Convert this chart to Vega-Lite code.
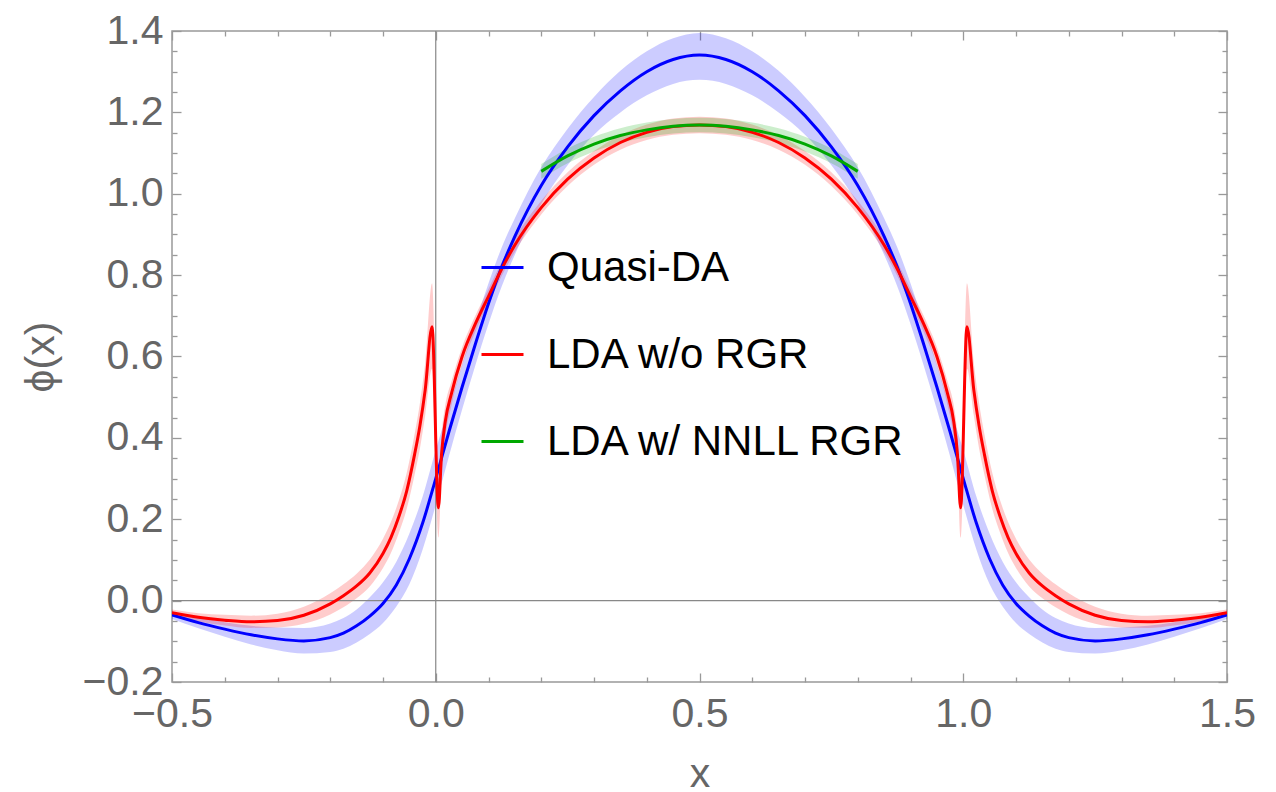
{
  "$schema": "https://vega.github.io/schema/vega-lite/v6.json",
  "autosize": "none",
  "width": 1055,
  "height": 651,
  "padding": {"left": 172, "top": 31, "right": 49, "bottom": 110},
  "background": "white",
  "datasets": {
    "d": [
      {"series":"Quasi-DA","x":-0.5,"y":-0.035,"lo":-0.045,"hi":-0.027},
      {"series":"Quasi-DA","x":-0.45,"y":-0.054,"lo":-0.068,"hi":-0.041},
      {"series":"Quasi-DA","x":-0.4,"y":-0.070,"lo":-0.089,"hi":-0.053},
      {"series":"Quasi-DA","x":-0.35,"y":-0.084,"lo":-0.108,"hi":-0.062},
      {"series":"Quasi-DA","x":-0.3,"y":-0.094,"lo":-0.122,"hi":-0.066},
      {"series":"Quasi-DA","x":-0.25,"y":-0.099,"lo":-0.130,"hi":-0.067},
      {"series":"Quasi-DA","x":-0.2,"y":-0.091,"lo":-0.126,"hi":-0.056},
      {"series":"Quasi-DA","x":-0.175,"y":-0.080,"lo":-0.118,"hi":-0.043},
      {"series":"Quasi-DA","x":-0.15,"y":-0.062,"lo":-0.103,"hi":-0.022},
      {"series":"Quasi-DA","x":-0.125,"y":-0.038,"lo":-0.082,"hi":0.008},
      {"series":"Quasi-DA","x":-0.1,"y":-0.007,"lo":-0.055,"hi":0.045},
      {"series":"Quasi-DA","x":-0.075,"y":0.038,"lo":-0.015,"hi":0.095},
      {"series":"Quasi-DA","x":-0.05,"y":0.103,"lo":0.040,"hi":0.165},
      {"series":"Quasi-DA","x":-0.025,"y":0.190,"lo":0.125,"hi":0.255},
      {"series":"Quasi-DA","x":0,"y":0.300,"lo":0.235,"hi":0.370},
      {"series":"Quasi-DA","x":0.025,"y":0.415,"lo":0.355,"hi":0.475},
      {"series":"Quasi-DA","x":0.05,"y":0.525,"lo":0.470,"hi":0.580},
      {"series":"Quasi-DA","x":0.075,"y":0.630,"lo":0.578,"hi":0.682},
      {"series":"Quasi-DA","x":0.1,"y":0.730,"lo":0.680,"hi":0.780},
      {"series":"Quasi-DA","x":0.125,"y":0.820,"lo":0.772,"hi":0.868},
      {"series":"Quasi-DA","x":0.15,"y":0.895,"lo":0.850,"hi":0.940},
      {"series":"Quasi-DA","x":0.2,"y":1.020,"lo":0.975,"hi":1.065},
      {"series":"Quasi-DA","x":0.25,"y":1.115,"lo":1.070,"hi":1.160},
      {"series":"Quasi-DA","x":0.3,"y":1.192,"lo":1.145,"hi":1.238},
      {"series":"Quasi-DA","x":0.35,"y":1.253,"lo":1.200,"hi":1.302},
      {"series":"Quasi-DA","x":0.4,"y":1.300,"lo":1.242,"hi":1.350},
      {"series":"Quasi-DA","x":0.45,"y":1.330,"lo":1.270,"hi":1.382},
      {"series":"Quasi-DA","x":0.5,"y":1.341,"lo":1.280,"hi":1.395},
      {"series":"Quasi-DA","x":0.55,"y":1.330,"lo":1.270,"hi":1.382},
      {"series":"Quasi-DA","x":0.6,"y":1.300,"lo":1.242,"hi":1.350},
      {"series":"Quasi-DA","x":0.65,"y":1.253,"lo":1.200,"hi":1.302},
      {"series":"Quasi-DA","x":0.7,"y":1.192,"lo":1.145,"hi":1.238},
      {"series":"Quasi-DA","x":0.75,"y":1.115,"lo":1.070,"hi":1.160},
      {"series":"Quasi-DA","x":0.8,"y":1.020,"lo":0.975,"hi":1.065},
      {"series":"Quasi-DA","x":0.85,"y":0.895,"lo":0.850,"hi":0.940},
      {"series":"Quasi-DA","x":0.875,"y":0.820,"lo":0.772,"hi":0.868},
      {"series":"Quasi-DA","x":0.9,"y":0.730,"lo":0.680,"hi":0.780},
      {"series":"Quasi-DA","x":0.925,"y":0.630,"lo":0.578,"hi":0.682},
      {"series":"Quasi-DA","x":0.95,"y":0.525,"lo":0.470,"hi":0.580},
      {"series":"Quasi-DA","x":0.975,"y":0.415,"lo":0.355,"hi":0.475},
      {"series":"Quasi-DA","x":1,"y":0.300,"lo":0.235,"hi":0.370},
      {"series":"Quasi-DA","x":1.025,"y":0.190,"lo":0.125,"hi":0.255},
      {"series":"Quasi-DA","x":1.05,"y":0.103,"lo":0.040,"hi":0.165},
      {"series":"Quasi-DA","x":1.075,"y":0.038,"lo":-0.015,"hi":0.095},
      {"series":"Quasi-DA","x":1.1,"y":-0.007,"lo":-0.055,"hi":0.045},
      {"series":"Quasi-DA","x":1.125,"y":-0.038,"lo":-0.082,"hi":0.008},
      {"series":"Quasi-DA","x":1.15,"y":-0.062,"lo":-0.103,"hi":-0.022},
      {"series":"Quasi-DA","x":1.175,"y":-0.080,"lo":-0.118,"hi":-0.043},
      {"series":"Quasi-DA","x":1.2,"y":-0.091,"lo":-0.126,"hi":-0.056},
      {"series":"Quasi-DA","x":1.25,"y":-0.099,"lo":-0.130,"hi":-0.067},
      {"series":"Quasi-DA","x":1.3,"y":-0.094,"lo":-0.122,"hi":-0.066},
      {"series":"Quasi-DA","x":1.35,"y":-0.084,"lo":-0.108,"hi":-0.062},
      {"series":"Quasi-DA","x":1.4,"y":-0.070,"lo":-0.089,"hi":-0.053},
      {"series":"Quasi-DA","x":1.45,"y":-0.054,"lo":-0.068,"hi":-0.041},
      {"series":"Quasi-DA","x":1.5,"y":-0.035,"lo":-0.045,"hi":-0.027},

      {"series":"LDA w/o RGR","x":-0.5,"y":-0.030,"lo":-0.038,"hi":-0.022},
      {"series":"LDA w/o RGR","x":-0.45,"y":-0.041,"lo":-0.051,"hi":-0.031},
      {"series":"LDA w/o RGR","x":-0.4,"y":-0.048,"lo":-0.061,"hi":-0.035},
      {"series":"LDA w/o RGR","x":-0.35,"y":-0.052,"lo":-0.067,"hi":-0.037},
      {"series":"LDA w/o RGR","x":-0.3,"y":-0.049,"lo":-0.066,"hi":-0.032},
      {"series":"LDA w/o RGR","x":-0.25,"y":-0.036,"lo":-0.057,"hi":-0.015},
      {"series":"LDA w/o RGR","x":-0.2,"y":-0.008,"lo":-0.034,"hi":0.018},
      {"series":"LDA w/o RGR","x":-0.175,"y":0.012,"lo":-0.016,"hi":0.040},
      {"series":"LDA w/o RGR","x":-0.15,"y":0.036,"lo":0.006,"hi":0.066},
      {"series":"LDA w/o RGR","x":-0.125,"y":0.068,"lo":0.035,"hi":0.101},
      {"series":"LDA w/o RGR","x":-0.1,"y":0.116,"lo":0.080,"hi":0.152},
      {"series":"LDA w/o RGR","x":-0.085,"y":0.155,"lo":0.117,"hi":0.193},
      {"series":"LDA w/o RGR","x":-0.07,"y":0.206,"lo":0.166,"hi":0.246},
      {"series":"LDA w/o RGR","x":-0.055,"y":0.270,"lo":0.226,"hi":0.314},
      {"series":"LDA w/o RGR","x":-0.04,"y":0.360,"lo":0.310,"hi":0.410},
      {"series":"LDA w/o RGR","x":-0.03,"y":0.430,"lo":0.374,"hi":0.486},
      {"series":"LDA w/o RGR","x":-0.02,"y":0.518,"lo":0.455,"hi":0.585},
      {"series":"LDA w/o RGR","x":-0.007,"y":0.673,"lo":0.570,"hi":0.780},
      {"series":"LDA w/o RGR","x":0.005,"y":0.228,"lo":0.155,"hi":0.300},
      {"series":"LDA w/o RGR","x":0.011,"y":0.360,"lo":0.310,"hi":0.410},
      {"series":"LDA w/o RGR","x":0.018,"y":0.440,"lo":0.400,"hi":0.480},
      {"series":"LDA w/o RGR","x":0.03,"y":0.510,"lo":0.480,"hi":0.540},
      {"series":"LDA w/o RGR","x":0.05,"y":0.600,"lo":0.577,"hi":0.623},
      {"series":"LDA w/o RGR","x":0.075,"y":0.680,"lo":0.660,"hi":0.700},
      {"series":"LDA w/o RGR","x":0.1,"y":0.748,"lo":0.730,"hi":0.766},
      {"series":"LDA w/o RGR","x":0.125,"y":0.815,"lo":0.798,"hi":0.832},
      {"series":"LDA w/o RGR","x":0.15,"y":0.874,"lo":0.857,"hi":0.891},
      {"series":"LDA w/o RGR","x":0.2,"y":0.966,"lo":0.949,"hi":0.983},
      {"series":"LDA w/o RGR","x":0.25,"y":1.036,"lo":1.019,"hi":1.053},
      {"series":"LDA w/o RGR","x":0.3,"y":1.088,"lo":1.071,"hi":1.105},
      {"series":"LDA w/o RGR","x":0.35,"y":1.126,"lo":1.108,"hi":1.144},
      {"series":"LDA w/o RGR","x":0.4,"y":1.151,"lo":1.132,"hi":1.170},
      {"series":"LDA w/o RGR","x":0.45,"y":1.165,"lo":1.145,"hi":1.185},
      {"series":"LDA w/o RGR","x":0.5,"y":1.169,"lo":1.149,"hi":1.189},
      {"series":"LDA w/o RGR","x":0.55,"y":1.165,"lo":1.145,"hi":1.185},
      {"series":"LDA w/o RGR","x":0.6,"y":1.151,"lo":1.132,"hi":1.170},
      {"series":"LDA w/o RGR","x":0.65,"y":1.126,"lo":1.108,"hi":1.144},
      {"series":"LDA w/o RGR","x":0.7,"y":1.088,"lo":1.071,"hi":1.105},
      {"series":"LDA w/o RGR","x":0.75,"y":1.036,"lo":1.019,"hi":1.053},
      {"series":"LDA w/o RGR","x":0.8,"y":0.966,"lo":0.949,"hi":0.983},
      {"series":"LDA w/o RGR","x":0.85,"y":0.874,"lo":0.857,"hi":0.891},
      {"series":"LDA w/o RGR","x":0.875,"y":0.815,"lo":0.798,"hi":0.832},
      {"series":"LDA w/o RGR","x":0.9,"y":0.748,"lo":0.730,"hi":0.766},
      {"series":"LDA w/o RGR","x":0.925,"y":0.680,"lo":0.660,"hi":0.700},
      {"series":"LDA w/o RGR","x":0.95,"y":0.600,"lo":0.577,"hi":0.623},
      {"series":"LDA w/o RGR","x":0.97,"y":0.510,"lo":0.480,"hi":0.540},
      {"series":"LDA w/o RGR","x":0.982,"y":0.440,"lo":0.400,"hi":0.480},
      {"series":"LDA w/o RGR","x":0.989,"y":0.360,"lo":0.310,"hi":0.410},
      {"series":"LDA w/o RGR","x":0.995,"y":0.228,"lo":0.155,"hi":0.300},
      {"series":"LDA w/o RGR","x":1.007,"y":0.673,"lo":0.570,"hi":0.780},
      {"series":"LDA w/o RGR","x":1.02,"y":0.518,"lo":0.455,"hi":0.585},
      {"series":"LDA w/o RGR","x":1.03,"y":0.430,"lo":0.374,"hi":0.486},
      {"series":"LDA w/o RGR","x":1.04,"y":0.360,"lo":0.310,"hi":0.410},
      {"series":"LDA w/o RGR","x":1.055,"y":0.270,"lo":0.226,"hi":0.314},
      {"series":"LDA w/o RGR","x":1.07,"y":0.206,"lo":0.166,"hi":0.246},
      {"series":"LDA w/o RGR","x":1.085,"y":0.155,"lo":0.117,"hi":0.193},
      {"series":"LDA w/o RGR","x":1.1,"y":0.116,"lo":0.080,"hi":0.152},
      {"series":"LDA w/o RGR","x":1.125,"y":0.068,"lo":0.035,"hi":0.101},
      {"series":"LDA w/o RGR","x":1.15,"y":0.036,"lo":0.006,"hi":0.066},
      {"series":"LDA w/o RGR","x":1.175,"y":0.012,"lo":-0.016,"hi":0.040},
      {"series":"LDA w/o RGR","x":1.2,"y":-0.008,"lo":-0.034,"hi":0.018},
      {"series":"LDA w/o RGR","x":1.25,"y":-0.036,"lo":-0.057,"hi":-0.015},
      {"series":"LDA w/o RGR","x":1.3,"y":-0.049,"lo":-0.066,"hi":-0.032},
      {"series":"LDA w/o RGR","x":1.35,"y":-0.052,"lo":-0.067,"hi":-0.037},
      {"series":"LDA w/o RGR","x":1.4,"y":-0.048,"lo":-0.061,"hi":-0.035},
      {"series":"LDA w/o RGR","x":1.45,"y":-0.041,"lo":-0.051,"hi":-0.031},
      {"series":"LDA w/o RGR","x":1.5,"y":-0.030,"lo":-0.038,"hi":-0.022},

      {"series":"LDA w/ NNLL RGR","x":0.2,"y":1.055,"lo":1.037,"hi":1.073},
      {"series":"LDA w/ NNLL RGR","x":0.25,"y":1.093,"lo":1.075,"hi":1.111},
      {"series":"LDA w/ NNLL RGR","x":0.3,"y":1.122,"lo":1.104,"hi":1.140},
      {"series":"LDA w/ NNLL RGR","x":0.35,"y":1.143,"lo":1.125,"hi":1.161},
      {"series":"LDA w/ NNLL RGR","x":0.4,"y":1.157,"lo":1.139,"hi":1.175},
      {"series":"LDA w/ NNLL RGR","x":0.45,"y":1.166,"lo":1.148,"hi":1.184},
      {"series":"LDA w/ NNLL RGR","x":0.5,"y":1.169,"lo":1.151,"hi":1.187},
      {"series":"LDA w/ NNLL RGR","x":0.55,"y":1.166,"lo":1.148,"hi":1.184},
      {"series":"LDA w/ NNLL RGR","x":0.6,"y":1.157,"lo":1.139,"hi":1.175},
      {"series":"LDA w/ NNLL RGR","x":0.65,"y":1.143,"lo":1.125,"hi":1.161},
      {"series":"LDA w/ NNLL RGR","x":0.7,"y":1.122,"lo":1.104,"hi":1.140},
      {"series":"LDA w/ NNLL RGR","x":0.75,"y":1.093,"lo":1.075,"hi":1.111},
      {"series":"LDA w/ NNLL RGR","x":0.8,"y":1.055,"lo":1.037,"hi":1.073}
    ]
  },
  "layer": [
    {
      "data": {"name": "d"},
      "transform": [{"filter": "datum.series === 'Quasi-DA'"}],
      "mark": {"type": "area", "color": "#0000ff", "opacity": 0.2, "interpolate": "monotone", "clip": true},
      "encoding": {
        "x": {"field": "x", "type": "quantitative", "scale": {"domain": [-0.5, 1.5], "nice": false, "zero": false},
          "axis": {"orient": "bottom", "values": [-0.5, 0, 0.5, 1, 1.5], "format": ".1f", "tickSize": -9, "labelPadding": 21, "title": "x", "titlePadding": 20, "labelFlush": false, "labelOverlap": false, "domain": false, "grid": false}},
        "y": {"field": "lo", "type": "quantitative", "scale": {"domain": [-0.2, 1.4], "nice": false, "zero": false},
          "axis": {"orient": "left", "values": [-0.2, 0, 0.2, 0.4, 0.6, 0.8, 1.0, 1.2, 1.4], "format": ".1f", "tickSize": -9, "labelPadding": 18, "title": "ϕ(x)", "titlePadding": 20, "labelFlush": false, "labelOverlap": false, "domain": false, "grid": false}},
        "y2": {"field": "hi"}
      }
    },
    {
      "data": {"name": "d"},
      "transform": [{"filter": "datum.series === 'LDA w/o RGR'"}],
      "mark": {"type": "area", "color": "#ff0000", "opacity": 0.2, "interpolate": "monotone", "clip": true},
      "encoding": {
        "x": {"field": "x", "type": "quantitative", "scale": {"domain": [-0.5, 1.5], "nice": false, "zero": false},
          "axis": {"orient": "bottom", "values": [-0.4, -0.3, -0.2, -0.1, 0.1, 0.2, 0.3, 0.4, 0.6, 0.7, 0.8, 0.9, 1.1, 1.2, 1.3, 1.4], "tickSize": -5, "labels": false, "title": null, "domain": false, "grid": false}},
        "y": {"field": "lo", "type": "quantitative", "scale": {"domain": [-0.2, 1.4], "nice": false, "zero": false},
          "axis": {"orient": "left", "values": [-0.15, -0.1, -0.05, 0.05, 0.1, 0.15, 0.25, 0.3, 0.35, 0.45, 0.5, 0.55, 0.65, 0.7, 0.75, 0.85, 0.9, 0.95, 1.05, 1.1, 1.15, 1.25, 1.3, 1.35], "tickSize": -5, "labels": false, "title": null, "domain": false, "grid": false}},
        "y2": {"field": "hi"}
      }
    },
    {
      "data": {"name": "d"},
      "transform": [{"filter": "datum.series === 'LDA w/ NNLL RGR'"}],
      "mark": {"type": "area", "color": "#00a800", "opacity": 0.2, "interpolate": "monotone", "clip": true},
      "encoding": {
        "x": {"field": "x", "type": "quantitative", "scale": {"domain": [-0.5, 1.5], "nice": false, "zero": false},
          "axis": {"orient": "top", "values": [-0.5, 0, 0.5, 1, 1.5], "tickSize": -9, "labels": false, "title": null, "domain": false, "grid": false}},
        "y": {"field": "lo", "type": "quantitative", "scale": {"domain": [-0.2, 1.4], "nice": false, "zero": false},
          "axis": {"orient": "right", "values": [-0.2, 0, 0.2, 0.4, 0.6, 0.8, 1.0, 1.2, 1.4], "tickSize": -9, "labels": false, "title": null, "domain": false, "grid": false}},
        "y2": {"field": "hi"}
      }
    },
    {
      "data": {"values": [{}]},
      "mark": {"type": "rule", "color": "#888888", "strokeWidth": 1.2},
      "encoding": {
        "x": {"datum": 0, "type": "quantitative", "scale": {"domain": [-0.5, 1.5], "nice": false, "zero": false}, "axis": null}
      }
    },
    {
      "data": {"values": [{}]},
      "mark": {"type": "rule", "color": "#888888", "strokeWidth": 1.2},
      "encoding": {
        "y": {"datum": 0, "type": "quantitative", "scale": {"domain": [-0.2, 1.4], "nice": false, "zero": false}, "axis": null}
      }
    },
    {
      "data": {"name": "d"},
      "mark": {"type": "line", "strokeWidth": 3, "interpolate": "monotone", "clip": true},
      "encoding": {
        "x": {"field": "x", "type": "quantitative", "scale": {"domain": [-0.5, 1.5], "nice": false, "zero": false},
          "axis": {"orient": "top", "values": [-0.4, -0.3, -0.2, -0.1, 0.1, 0.2, 0.3, 0.4, 0.6, 0.7, 0.8, 0.9, 1.1, 1.2, 1.3, 1.4], "tickSize": -5, "labels": false, "title": null, "domain": false, "grid": false}},
        "y": {"field": "y", "type": "quantitative", "scale": {"domain": [-0.2, 1.4], "nice": false, "zero": false},
          "axis": {"orient": "right", "values": [-0.15, -0.1, -0.05, 0.05, 0.1, 0.15, 0.25, 0.3, 0.35, 0.45, 0.5, 0.55, 0.65, 0.7, 0.75, 0.85, 0.9, 0.95, 1.05, 1.1, 1.15, 1.25, 1.3, 1.35], "tickSize": -5, "labels": false, "title": null, "domain": false, "grid": false}},
        "color": {"field": "series", "type": "nominal",
          "scale": {"domain": ["Quasi-DA", "LDA w/o RGR", "LDA w/ NNLL RGR"], "range": ["#0000ff", "#ff0000", "#00a800"]},
          "legend": {"orient": "none", "legendX": 308, "legendY": 214, "title": null, "symbolType": "stroke", "symbolSize": 1764, "symbolStrokeWidth": 3, "labelFontSize": 42, "labelFont": "Liberation Sans", "labelColor": "#000000", "labelOffset": 22, "rowPadding": 43, "padding": 0, "labelLimit": 800}}
      }
    }
  ],
  "resolve": {"axis": {"x": "independent", "y": "independent"}},
  "config": {
    "view": {"stroke": "#999999", "strokeWidth": 1.5},
    "axis": {"labelFont": "Liberation Sans", "labelFontSize": 41, "labelColor": "#666666", "titleFont": "Liberation Sans", "titleFontSize": 41, "titleColor": "#666666", "titleFontWeight": "normal", "tickColor": "#999999", "tickWidth": 1.3}
  }
}
